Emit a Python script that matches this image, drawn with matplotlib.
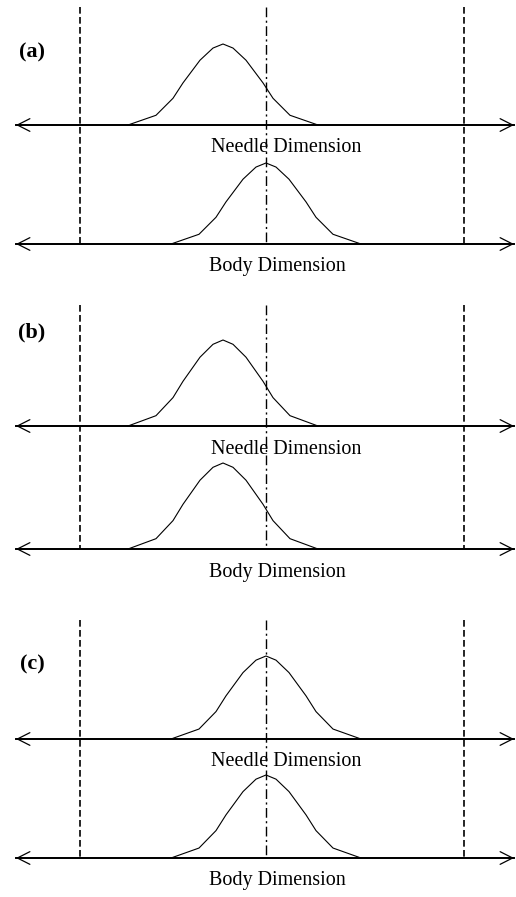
import matplotlib

matplotlib.use("Agg")
import matplotlib.pyplot as plt

# Horizontal positions along the dimension axis (figure pixel units)
lower_limit = 80
nominal = 266
upper_limit = 464
axis_left = 16
axis_right = 514

panel_labels = ["(a)", "(b)", "(c)"]
panel_tops = [7, 305, 620]
panel_label_y = [52, 332, 664]
needle_axis_y = [125, 426, 739]
body_axis_y = [244, 549, 858]
needle_means = [223, 223, 266]
body_means = [266, 223, 266]
peak_heights = [81, 86, 83]

# Distribution outline: offset from mean, height as share of peak
profile_offsets = [-95, -67, -50, -40, -23, -10, 0, 10, 23, 40, 50, 67, 95]
profile_shares = [0.0, 0.12, 0.33, 0.52, 0.80, 0.95, 1.0, 0.95, 0.80, 0.52, 0.33, 0.12, 0.0]

axis_names = ["Needle Dimension", "Body Dimension"]
label_centers = [286, 277]
label_gap = 23

fig = plt.figure(figsize=(5.16, 8.97), dpi=100)
ax = fig.add_axes([0, 0, 1, 1])
ax.set_xlim(0, 516)
ax.set_ylim(897, 0)
ax.axis("off")

serif = ["Liberation Serif", "DejaVu Serif"]


def draw_curve(mean, base, height):
    xs = [mean + o for o in profile_offsets]
    ys = [base - s * height for s in profile_shares]
    ax.plot(xs, ys, color="black", lw=0.8)


def draw_axis(base):
    ax.plot([axis_left, axis_right], [base, base], color="black", lw=1.4)
    ax.annotate(
        "",
        xy=(axis_left, base),
        xytext=(axis_right, base),
        arrowprops=dict(
            arrowstyle="<->,head_length=0.75,head_width=0.38",
            mutation_scale=12,
            lw=0.9,
            color="black",
            shrinkA=0,
            shrinkB=0,
        ),
    )


for i, label in enumerate(panel_labels):
    top = panel_tops[i]
    bottom = body_axis_y[i]
    ax.plot([lower_limit, lower_limit], [top, bottom], color="black", lw=1.2, ls=(0, (4, 2)))
    ax.plot([upper_limit, upper_limit], [top, bottom], color="black", lw=1.2, ls=(0, (4, 2)))
    ax.plot([nominal, nominal], [top, bottom], color="black", lw=1.0, ls=(0, (7, 2.5, 1.5, 2.5)))

    for base, mean in [(needle_axis_y[i], needle_means[i]), (body_axis_y[i], body_means[i])]:
        draw_axis(base)
        draw_curve(mean, base, peak_heights[i])

    ax.text(label_centers[0], needle_axis_y[i] + label_gap, axis_names[0],
            ha="center", va="center", fontsize=14.5, family=serif)
    ax.text(label_centers[1], body_axis_y[i] + label_gap, axis_names[1],
            ha="center", va="center", fontsize=14.5, family=serif)
    ax.text(32, panel_label_y[i], label, ha="center", va="center",
            fontsize=16, fontweight="bold", family=serif)

fig.savefig("out.png", dpi=100)
